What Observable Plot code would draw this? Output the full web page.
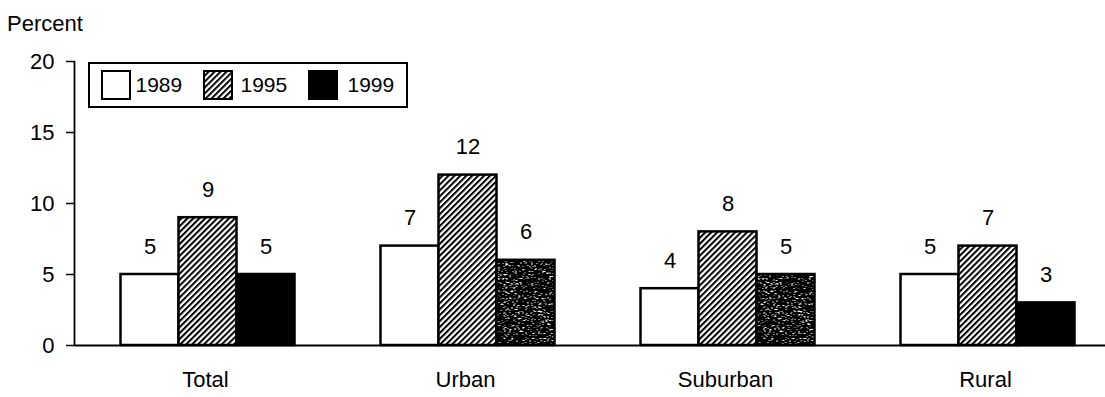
<!DOCTYPE html>
<html>
<head>
<meta charset="utf-8">
<script src="https://cdn.jsdelivr.net/npm/d3@7"></script>
<script src="https://cdn.jsdelivr.net/npm/@observablehq/plot@0.6"></script>
<style>
  body { margin: 0; background: #fff; font-family: "Liberation Sans", Arial, sans-serif; color: #000; }
  #wrap { position: relative; width: 1105px; height: 397px; }
  #ylabel { position: absolute; left: 7px; top: 13px; font-size: 22px; line-height: 22px; }
  #legend { position: absolute; left: 88px; top: 62px; width: 320px; height: 46px;
            border: 2.5px solid #000; box-sizing: border-box; background: #fff; }
  .item { position: absolute; top: 0; height: 41px; display: flex; align-items: center; font-size: 21px; }
  .item svg { display: block; }
</style>
</head>
<body>
<div id="wrap">
  <div id="chart"></div>
  <div id="ylabel">Percent</div>
  <div id="legend"></div>
</div>
<script>
// Percent of students, by place of residence and survey year
const categories = ["Total", "Urban", "Suburban", "Rural"];
const years = ["1989", "1995", "1999"];
const pct1989 = [5, 7, 4, 5];
const pct1995 = [9, 12, 8, 7];
const pct1999 = [5, 6, 5, 3];
const yTicks = [0, 5, 10, 15, 20];

const series = {"1989": pct1989, "1995": pct1995, "1999": pct1999};
const rows = categories.flatMap((category, i) =>
  years.map(year => ({category, year, value: series[year][i]}))
);

// 1999 bars that print with a visibly grainy black
const grainyPlaces = new Set(["Urban", "Suburban"]);

const left = 74.5;
const font = "'Liberation Sans', Arial, sans-serif";

const barBase = {fx: "category", x: "year", y: "value", stroke: "black", strokeWidth: 2.5};

const plot = Plot.plot({
  width: 1105,
  height: 397,
  marginTop: 61,
  marginBottom: 52,
  marginLeft: left,
  marginRight: 0,
  style: {fontFamily: font, fontSize: "22px", color: "#000", background: "transparent"},
  fx: {domain: categories, range: [left, left + 1040], padding: 0, label: null},
  x: {domain: years, paddingInner: 0, paddingOuter: 0.729, align: 0.53, axis: null},
  y: {domain: [0, 20], label: null},
  marks: [
    Plot.axisY({ticks: yTicks, tickSize: 9, tickPadding: 12, fontSize: 22, label: null, strokeWidth: 1.5}),
    Plot.axisFx({anchor: "bottom", tickSize: 0, tickPadding: 26, fontSize: 22, label: null}),
    Plot.barY(rows, {...barBase, filter: d => d.year === "1989", fill: "white"}),
    Plot.barY(rows, {...barBase, filter: d => d.year === "1995", fill: "url(#hatch)"}),
    Plot.barY(rows, {...barBase, filter: d => d.year === "1999" && !grainyPlaces.has(d.category), fill: "black"}),
    Plot.barY(rows, {...barBase, filter: d => d.year === "1999" && grainyPlaces.has(d.category), fill: "url(#speckle)"}),
    Plot.ruleY([0], {strokeWidth: 2}),
    Plot.text(rows, {fx: "category", x: "year", y: "value", text: d => String(d.value), dy: -28, fontSize: 22})
  ]
});

// Fill patterns: diagonal hatching and grainy black
const svg = d3.select(plot);
const defs = svg.insert("defs", ":first-child");
const hatch = defs.append("pattern")
  .attr("id", "hatch").attr("patternUnits", "userSpaceOnUse")
  .attr("width", 4.2).attr("height", 4.2)
  .attr("patternTransform", "rotate(45)");
hatch.append("rect").attr("width", 4.2).attr("height", 4.2).attr("fill", "white");
hatch.append("rect").attr("width", 2.0).attr("height", 4.2).attr("fill", "black");

const grain = defs.append("filter").attr("id", "grain")
  .attr("x", 0).attr("y", 0).attr("width", 1).attr("height", 1);
grain.append("feTurbulence").attr("type", "fractalNoise").attr("baseFrequency", 0.55)
  .attr("numOctaves", 2).attr("seed", 7).attr("result", "noise");
grain.append("feColorMatrix").attr("in", "noise").attr("type", "matrix")
  .attr("values", "0 0 0 0 1  0 0 0 0 1  0 0 0 0 1  14 0 0 0 -8.6").attr("result", "specks");
grain.append("feComposite").attr("in", "specks").attr("in2", "SourceGraphic").attr("operator", "in").attr("result", "dots");
const merge = grain.append("feMerge");
merge.append("feMergeNode").attr("in", "SourceGraphic");
merge.append("feMergeNode").attr("in", "dots");

const speckle = defs.append("pattern")
  .attr("id", "speckle").attr("patternUnits", "userSpaceOnUse")
  .attr("width", 120).attr("height", 240);
speckle.append("rect").attr("width", 120).attr("height", 240).attr("fill", "black").attr("filter", "url(#grain)");

// Vertical axis line from 0 to the top tick
const y = plot.scale("y");
svg.append("line")
  .attr("x1", left).attr("x2", left)
  .attr("y1", y.apply(yTicks[0])).attr("y2", y.apply(yTicks[yTicks.length - 1]))
  .attr("stroke", "black").attr("stroke-width", 1.8);

document.getElementById("chart").appendChild(plot);

// Legend
const legendFill = {"1989": "white", "1995": "url(#hatch)", "1999": "black"};
const legendLeft = [10.5, 112.5, 217.5];
const legendGap = [5, 8, 10];
const legend = d3.select("#legend");
years.forEach((year, i) => {
  const item = legend.append("div").attr("class", "item").style("left", legendLeft[i] + "px");
  const sw = item.append("svg").attr("width", 30).attr("height", 30).style("margin-right", legendGap[i] + "px");
  sw.append("rect").attr("x", 1).attr("y", 1).attr("width", 28).attr("height", 28)
    .attr("fill", legendFill[year]).attr("stroke", "black").attr("stroke-width", 2);
  item.append("span").text(year);
});
</script>
</body>
</html>
